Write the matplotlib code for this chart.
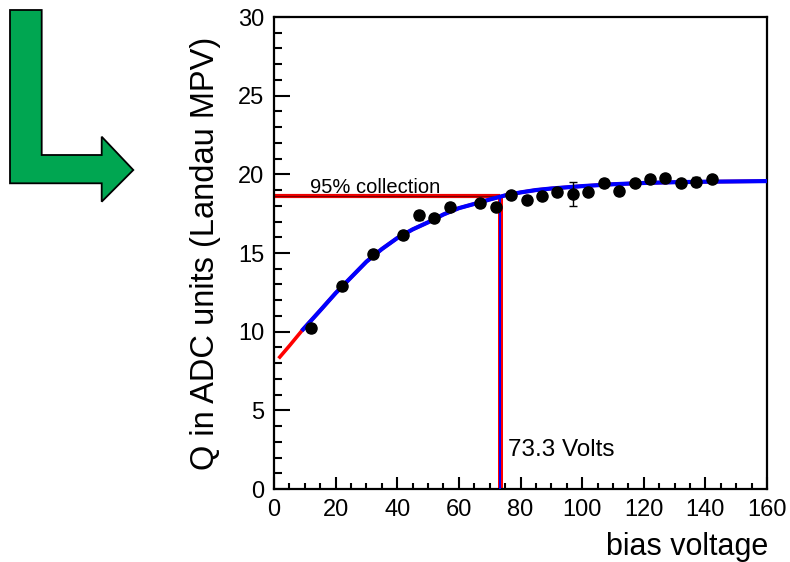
import matplotlib
matplotlib.use("Agg")
import matplotlib.pyplot as plt
from matplotlib.patches import Polygon
from matplotlib.ticker import MultipleLocator

plt.rcParams['font.family'] = ['Liberation Sans', 'DejaVu Sans']

# ---- data ----
bias_v = [12, 22, 32, 42, 47, 52, 57, 67, 72, 77, 82, 87, 92, 97, 102,
          107, 112, 117, 122, 127, 132, 137, 142]
q_mpv = [10.25, 12.9, 14.96, 16.13, 17.4, 17.25, 17.9, 18.2, 17.95, 18.7,
         18.4, 18.65, 18.9, 18.75, 18.9, 19.47, 18.94, 19.47, 19.69, 19.79,
         19.47, 19.53, 19.71]
q_err = [0.25, 0.25, 0.2, 0.25, 0.3, 0.15, 0.25, 0.25, 0.2, 0.15, 0.2, 0.2,
         0.25, 0.75, 0.2, 0.25, 0.25, 0.15, 0.2, 0.15, 0.15, 0.3, 0.15]

curve_x = [1.5, 5, 9, 15, 20, 25, 30, 35, 40, 45, 50, 55, 60, 65, 70, 75,
           80, 85, 90, 100, 110, 120, 130, 140, 150, 160]
curve_y = [8.3, 9.1, 10.05, 11.35, 12.45, 13.45, 14.45, 15.25, 15.95, 16.5,
           16.95, 17.45, 17.85, 18.12, 18.4, 18.66, 18.85, 19.0, 19.1, 19.25,
           19.37, 19.45, 19.5, 19.53, 19.55, 19.57]
fit_start = 9

depletion_v = 73.3
q95 = 18.65

x_ticks = [0, 20, 40, 60, 80, 100, 120, 140, 160]
y_ticks = [0, 5, 10, 15, 20, 25, 30]

W, H = 790, 562
fig = plt.figure(figsize=(W / 100, H / 100), dpi=100)
L, R, T, B = 274, 767, 17, 489
ax = fig.add_axes([L / W, 1 - B / H, (R - L) / W, (B - T) / H])

# fit curves
ax.plot(curve_x, curve_y, color='#ff0000', lw=2.6, zorder=2, solid_capstyle='butt')
bx = [x for x in curve_x if x >= fit_start]
by = [y for x, y in zip(curve_x, curve_y) if x >= fit_start]
ax.plot(bx, by, color='#0000ff', lw=3.0, zorder=3, solid_capstyle='butt')

# 95% lines
ax.plot([0, depletion_v], [q95, q95], color='#ee0000', lw=3.0, zorder=2,
        solid_capstyle='butt')
ax.plot([0, depletion_v], [q95, q95], color='#7a0000', lw=0.8, zorder=2,
        solid_capstyle='butt')
ax.plot([depletion_v, depletion_v], [0, q95], color='#ff0000', lw=3.6, zorder=2,
        solid_capstyle='butt')
ax.plot([depletion_v, depletion_v], [0, q95], color='#0000ff', lw=1.4, zorder=3,
        solid_capstyle='butt')

# data points
ax.errorbar(bias_v, q_mpv, yerr=q_err, fmt='o', color='black', ms=8,
            capsize=2.8, elinewidth=1.0, capthick=1.0, zorder=5)

ax.text(11.7, 18.8, '95% collection', fontsize=14.5, ha='left', va='baseline')
ax.text(76.0, 2.1, '73.3 Volts', fontsize=17.5, ha='left', va='baseline')

ax.set_xlim(0, 160)
ax.set_ylim(0, 30)
ax.set_xticks(x_ticks)
ax.set_yticks(y_ticks)
ax.xaxis.set_minor_locator(MultipleLocator(5))
ax.yaxis.set_minor_locator(MultipleLocator(1))
ax.tick_params(axis='x', which='major', direction='in', length=8.6, width=1.5,
               labelsize=17, pad=7, top=False)
ax.tick_params(axis='x', which='minor', direction='in', length=4.3, width=1.5,
               top=False)
ax.tick_params(axis='y', which='major', direction='in', length=11.5, width=1.5,
               labelsize=17, pad=7, right=False)
ax.tick_params(axis='y', which='minor', direction='in', length=6, width=1.5,
               right=False)
for s in ax.spines.values():
    s.set_linewidth(1.6)

ax.set_ylabel('Q in ADC units (Landau MPV)', fontsize=23.5, labelpad=12)
fig.text(768 / W, 1 - 555 / H, 'bias voltage', fontsize=22, ha='right',
         va='baseline')

# green arrow decoration
pts = [(10, 10), (41.7, 10), (41.7, 155), (101.7, 155), (101.7, 136.7),
       (133.3, 170), (101.7, 201.7), (101.7, 183.3), (10, 183.3)]
verts = [(px / W, 1 - py / H) for px, py in pts]
fig.add_artist(Polygon(verts, closed=True, transform=fig.transFigure,
                       facecolor='#00a651', edgecolor='black', lw=1.3))

fig.savefig('out.png', dpi=100)
